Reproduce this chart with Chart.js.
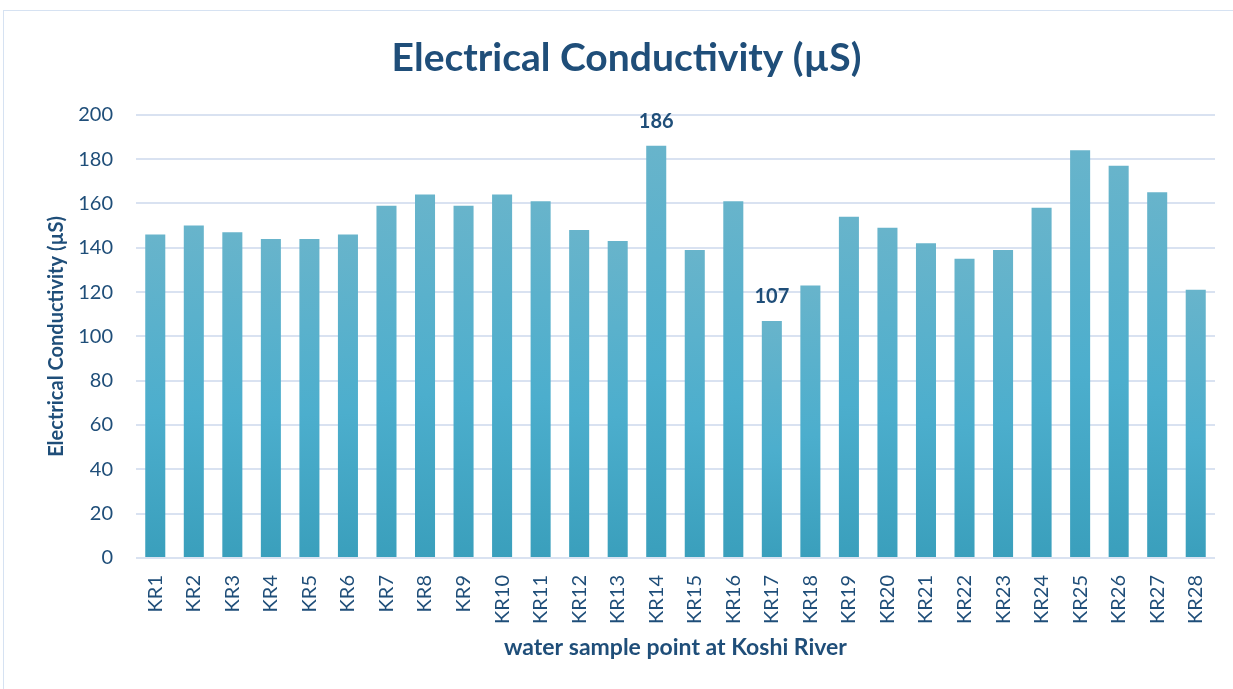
<!DOCTYPE html>
<html>
<head>
<meta charset="utf-8">
<title>Electrical Conductivity</title>
<script src="https://cdn.jsdelivr.net/npm/chart.js@4.4.1/dist/chart.umd.min.js"></script>
<style>
  html, body { margin: 0; padding: 0; background: #fff; overflow: hidden; }
  #wrap { position: relative; width: 1233px; height: 689px; }
  #frame { position: absolute; left: 3px; top: 10px; width: 1250px; height: 700px; border: 1px solid #d6e2f2; }
  canvas { position: absolute; left: 0; top: 0; }
</style>
</head>
<body>
<div id="wrap">
  <div id="frame"></div>
  <canvas id="ecChart" width="1233" height="689"></canvas>
</div>
<script>
// data
const samplePoints = ['KR1', 'KR2', 'KR3', 'KR4', 'KR5', 'KR6', 'KR7', 'KR8', 'KR9', 'KR10',
    'KR11', 'KR12', 'KR13', 'KR14', 'KR15', 'KR16', 'KR17', 'KR18', 'KR19', 'KR20',
    'KR21', 'KR22', 'KR23', 'KR24', 'KR25', 'KR26', 'KR27', 'KR28'];

const conductivity = [146, 150, 147, 144, 144, 146, 159, 164, 159, 164,
    161, 148, 143, 186, 139, 161, 107, 123, 154, 149,
    142, 135, 139, 158, 184, 177, 165, 121];

// only these two bars carry a value label
const labelledPoints = ['KR14', 'KR17'];

const yMin = 0;
const yMax = 200;
const yStep = 20;

const textColor = '#1f4e79';
const gridColor = '#d9e2f1';
const fontFamily = 'Lato, "Open Sans", sans-serif';

function barGradient(context) {
    const chart = context.chart;
    const area = chart.chartArea;
    const yScale = chart.scales.y;
    if (!area || !yScale) return '#4aaecb';
    const value = conductivity[context.dataIndex];
    const top = yScale.getPixelForValue(value);
    const bottom = yScale.getPixelForValue(0);
    const g = chart.ctx.createLinearGradient(0, top, 0, bottom);
    g.addColorStop(0, '#68b4cb');
    g.addColorStop(0.55, '#4caecd');
    g.addColorStop(1, '#3a9fbc');
    return g;
}

const valueLabels = {
    id: 'valueLabels',
    afterDatasetsDraw(chart) {
        const ctx = chart.ctx;
        const meta = chart.getDatasetMeta(0);
        ctx.save();
        ctx.font = 'bold 20px ' + fontFamily;
        ctx.fillStyle = textColor;
        ctx.textAlign = 'center';
        ctx.textBaseline = 'alphabetic';
        labelledPoints.forEach(function (name) {
            const i = samplePoints.indexOf(name);
            const bar = meta.data[i];
            ctx.fillText(String(conductivity[i]), bar.x, bar.y - 18);
        });
        ctx.restore();
    }
};

const data = {
    labels: samplePoints,
    datasets: [{
        label: 'Electrical Conductivity (µS)',
        data: conductivity,
        backgroundColor: barGradient,
        borderWidth: 0,
        barPercentage: 0.52,
        categoryPercentage: 1
    }]
};

const config = {
    type: 'bar',
    data: data,
    plugins: [valueLabels],
    options: {
        responsive: false,
        animation: false,
        layout: { padding: { left: 38, right: 18, top: 0, bottom: 0 } },
        plugins: {
            legend: { display: false },
            tooltip: { enabled: false },
            title: {
                display: true,
                text: 'Electrical Conductivity (µS)',
                color: textColor,
                font: { family: fontFamily, size: 39, weight: 'bold' },
                padding: { top: 35, bottom: 33 }
            }
        },
        scales: {
            x: {
                grid: { display: false, drawTicks: false },
                border: { display: false },
                ticks: {
                    color: textColor,
                    font: { family: fontFamily, size: 20 },
                    minRotation: 90,
                    maxRotation: 90,
                    padding: 17
                },
                title: {
                    display: true,
                    text: 'water sample point at Koshi River',
                    color: textColor,
                    font: { family: fontFamily, size: 23, weight: 'bold' },
                    padding: { top: 0, bottom: 28 }
                },
                afterFit(scale) {
                    scale.height = 131;
                    scale.paddingLeft = 0;
                    scale.paddingRight = 0;
                }
            },
            y: {
                min: yMin,
                max: yMax,
                grid: { color: gridColor, lineWidth: 2, drawTicks: false },
                border: { display: false },
                ticks: {
                    stepSize: yStep,
                    color: textColor,
                    font: { family: fontFamily, size: 20 },
                    padding: 23
                },
                title: {
                    display: true,
                    text: 'Electrical Conductivity (µS)',
                    color: textColor,
                    font: { family: fontFamily, size: 20, weight: 'bold' },
                    padding: { top: 7, bottom: 0 }
                },
                afterFit(scale) { scale.width = 98; }
            }
        }
    }
};

// eslint-disable-next-line
const ecChart = new Chart(
    document.getElementById('ecChart'),
    config
);
</script>
</body>
</html>
